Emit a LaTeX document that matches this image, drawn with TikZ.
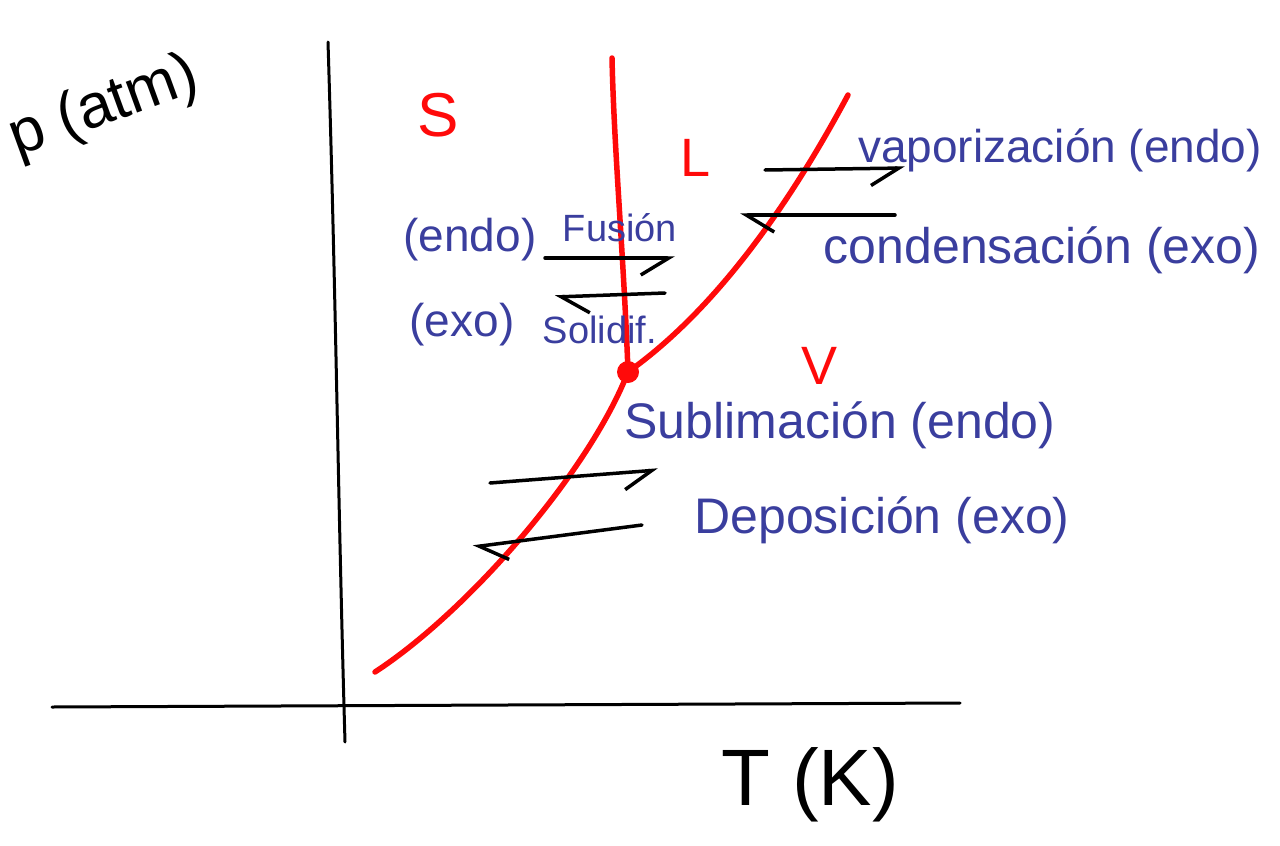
\documentclass[tikz,border=0pt]{standalone}
\usepackage{fontspec}
\setmainfont{Liberation Sans}
\usetikzlibrary{arrows.meta}

\definecolor{ink}{RGB}{58,62,158}
\definecolor{pen}{RGB}{255,10,10}

\tikzset{
  axis/.style={line width=3pt, line cap=round},
  phaseline/.style={pen, line width=5.5pt, line cap=round, line join=round},
  proc/.style={line width=3.5pt, line cap=round,
    -{Straight Barb[#1, length=28pt, width=34pt, line width=3.5pt]}},
  phase/.style={pen, font=\fontsize{62}{66}\selectfont},
  note/.style={ink, font=\fontsize{46}{50}\selectfont, inner sep=0pt},
  bignote/.style={ink, font=\fontsize{50}{54}\selectfont, inner sep=0pt},
  smallnote/.style={ink, font=\fontsize{38}{42}\selectfont, inner sep=0pt},
  axislabel/.style={font=\fontsize{#1}{#1}\selectfont, inner sep=0pt}
}

\begin{document}
\begin{tikzpicture}[x=1pt, y=-1pt]
\useasboundingbox (0,0) rectangle (1280,846);

% axes
\coordinate (yTop) at (328,42);
\coordinate (yBot) at (345,742);
\coordinate (xLeft) at (52,707);
\coordinate (xRight) at (960,703);
\draw[axis] (yTop) .. controls (336,300) and (338,500) .. (yBot);
\draw[axis] (xLeft) -- (xRight);

\node[axislabel=62, rotate=20] (pLabel) at (104,108) {p (atm)};
\node[axislabel=80] (tLabel) at (810,785) {T (K)};

% phase boundaries
\coordinate (tp) at (628,372);
\coordinate (subEnd) at (375,672);
\coordinate (fusEnd) at (612,58);
\coordinate (vapEnd) at (848,95);
\draw[phaseline] (subEnd) .. controls (470,610) and (590,470) .. (tp);
\draw[phaseline] (tp) .. controls (624,260) and (614,150) .. (fusEnd);
\draw[phaseline] (tp) .. controls (680,335) and (760,260) .. (vapEnd);
\fill[pen] (tp) circle (11pt);

\node[phase] (S) at (438,115) {S};
\node[phase, font=\fontsize{54}{58}\selectfont] (L) at (696,158) {L};
\node[phase, font=\fontsize{54}{58}\selectfont] (V) at (820,366) {V};

% processes
\coordinate (fusA) at (545,258);
\coordinate (fusB) at (675,258);
\coordinate (solA) at (665,293);
\coordinate (solB) at (555,297);
\coordinate (vapA) at (765,170);
\coordinate (vapB) at (905,168);
\coordinate (conA) at (895,215);
\coordinate (conB) at (740,215);
\coordinate (sublA) at (490,483);
\coordinate (sublB) at (658,470);
\coordinate (depA) at (642,525);
\coordinate (depB) at (473,547);
\draw[proc=right] (fusA) -- (fusB);
\draw[proc=left] (solA) -- (solB);
\draw[proc=right] (vapA) -- (vapB);
\draw[proc=left] (conA) -- (conB);
\draw[proc=right] (sublA) -- (sublB);
\draw[proc=left] (depA) -- (depB);

\node[note] (endoF) at (470,240) {(endo)};
\node[smallnote] (fus) at (620,228) {Fusión};
\node[note] (exoS) at (462,325) {(exo)};
\node[smallnote] (sol) at (600,330) {Solidif.};
\node[note] (vap) at (1060,150) {vaporización (endo)};
\node[bignote] (con) at (1042,250) {condensación (exo)};
\node[bignote] (subl) at (840,425) {Sublimación (endo)};
\node[bignote] (dep) at (882,520) {Deposición (exo)};
\end{tikzpicture}
\end{document}
